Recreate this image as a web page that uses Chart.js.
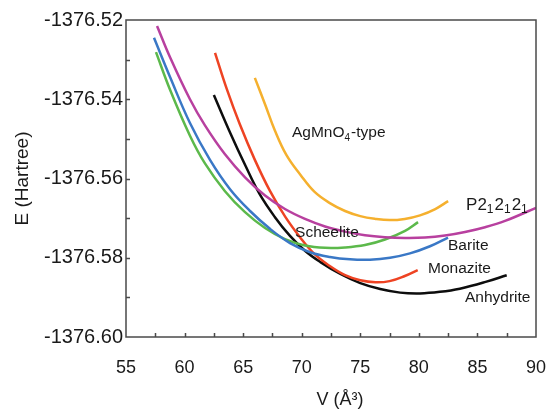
<!DOCTYPE html>
<html>
<head>
<meta charset="utf-8">
<script src="https://cdn.jsdelivr.net/npm/chart.js@4.4.0/dist/chart.umd.min.js"></script>
<style>
  html, body { margin: 0; padding: 0; background: #fff; }
  canvas { display: block; }
</style>
</head>
<body>
<canvas id="eosChart" width="549" height="412"></canvas>
<script>
// V (Å^3) / E (Hartree) pairs, one pair of arrays per structure
const scheeliteV = [57.56, 58.76, 60.46, 61.74, 63.45, 65.16, 66.87, 68.57, 70.28, 71.99, 73.70, 75.40, 77.11, 78.82, 79.93];
const scheeliteE = [-1376.5281, -1376.5376, -1376.5492, -1376.5562, -1376.5632, -1376.5685, -1376.5725, -1376.5753,
                    -1376.5769, -1376.5775, -1376.5774, -1376.5768, -1376.5754, -1376.5732, -1376.5710];

const bariteV = [57.39, 58.76, 60.46, 62.17, 63.88, 65.59, 67.29, 69.00, 70.71, 72.41, 74.12, 75.83, 77.54, 79.24, 80.95, 82.49];
const bariteE = [-1376.5245, -1376.5344, -1376.5460, -1376.5553, -1376.5627, -1376.5682, -1376.5727, -1376.5763,
                 -1376.5786, -1376.5798, -1376.5804, -1376.5805, -1376.5800, -1376.5789, -1376.5771, -1376.5749];

const p212121V = [57.65, 58.76, 60.46, 61.74, 63.45, 65.16, 66.87, 68.57, 70.28, 71.99, 73.70, 75.40, 77.11, 78.82,
                  80.53, 82.23, 83.94, 85.65, 87.36, 90.0];
const p212121E = [-1376.5215, -1376.5294, -1376.5400, -1376.5466, -1376.5539, -1376.5597, -1376.5643, -1376.5677,
                  -1376.5702, -1376.5721, -1376.5734, -1376.5743, -1376.5748, -1376.5750, -1376.5749, -1376.5744,
                  -1376.5735, -1376.5723, -1376.5707, -1376.5674];

const anhydriteV = [62.5, 63.9, 65.2, 66.4, 67.7, 69.0, 70.3, 71.6, 73.3, 75.0, 76.7, 78.4, 80.1, 81.8, 83.5, 85.7, 87.5];
const anhydriteE = [-1376.5389, -1376.5485, -1376.5568, -1376.5639, -1376.5697, -1376.5745, -1376.5783, -1376.5811,
                    -1376.5841, -1376.5864, -1376.5879, -1376.5888, -1376.5890, -1376.5886, -1376.5878, -1376.5861, -1376.5844];

const monaziteV = [62.6, 63.6, 64.7, 66.0, 67.3, 68.6, 69.9, 71.1, 72.4, 73.7, 75.0, 76.3, 77.5, 78.8, 79.9];
const monaziteE = [-1376.5283, -1376.5374, -1376.5462, -1376.5553, -1376.5632, -1376.5697, -1376.5750, -1376.5791,
                   -1376.5821, -1376.5844, -1376.5857, -1376.5862, -1376.5859, -1376.5846, -1376.5831];

const agmno4V = [66.0, 66.9, 67.7, 68.7, 69.9, 71.1, 72.4, 73.7, 75.0, 76.3, 77.5, 78.8, 80.1, 81.4, 82.5];
const agmno4E = [-1376.5346, -1376.5415, -1376.5478, -1376.5541, -1376.5591, -1376.5634, -1376.5662, -1376.5682,
                 -1376.5695, -1376.5702, -1376.5705, -1376.5702, -1376.5693, -1376.5677, -1376.5657];

const xTicks = [55, 60, 65, 70, 75, 80, 85, 90];
const yTicks = [-1376.60, -1376.58, -1376.56, -1376.54, -1376.52];

const FONT = 'Arial, "Liberation Sans", Helvetica, sans-serif';

function pts(vs, es) {
    return vs.map((v, i) => ({ x: v, y: es[i] }));
}

// curve names, placed in data coordinates next to each curve
const curveLabels = [
    { parts: [['AgMnO', 0], ['4', 1], ['-type', 0]], x: 69.17, y: -1376.5485, size: 15.5, sub: 10 },
    { parts: [['P2', 0], ['1', 1], ['2', 0], ['1', 1], ['2', 0], ['1', 1]], x: 84.03, y: -1376.5667, size: 17, sub: 12 },
    { parts: [['Scheelite', 0]], x: 69.43, y: -1376.5738, size: 15.5 },
    { parts: [['Barite', 0]], x: 82.49, y: -1376.5770, size: 15.5 },
    { parts: [['Monazite', 0]], x: 80.78, y: -1376.5828, size: 15.5 },
    { parts: [['Anhydrite', 0]], x: 83.94, y: -1376.5902, size: 15.5 },
];

const framePlugin = {
    id: 'frame',
    afterDatasetsDraw(chart) {
        const { ctx, chartArea: a, scales: { x, y } } = chart;
        ctx.save();

        // box + inward ticks
        ctx.strokeStyle = '#4a4a4a';
        ctx.lineWidth = 1.5;
        ctx.strokeRect(a.left, a.top, a.right - a.left, a.bottom - a.top);
        ctx.beginPath();
        for (let v = 57.5; v < 90; v += 2.5) {
            const px = Math.round(x.getPixelForValue(v)) + 0.5;
            ctx.moveTo(px, a.bottom);
            ctx.lineTo(px, a.bottom - 4);
        }
        for (let k = 1; k < 8; k++) {
            const py = Math.round(y.getPixelForValue(-1376.60 + k * 0.01)) + 0.5;
            ctx.moveTo(a.left, py);
            ctx.lineTo(a.left + 4, py);
        }
        ctx.stroke();

        // curve labels with subscripts
        ctx.fillStyle = '#1a1a1a';
        ctx.textBaseline = 'middle';
        ctx.textAlign = 'left';
        curveLabels.forEach(lab => {
            let px = x.getPixelForValue(lab.x);
            const py = y.getPixelForValue(lab.y);
            lab.parts.forEach(([txt, sub]) => {
                ctx.font = (sub ? lab.sub : lab.size) + 'px ' + FONT;
                ctx.fillText(txt, px, sub ? py + 5 : py);
                px += ctx.measureText(txt).width + (sub ? 1 : 0);
            });
        });

        // axis titles
        ctx.font = '18px ' + FONT;
        ctx.textAlign = 'center';
        ctx.fillText('V (Å³)', 340, 400);
        ctx.translate(23, (a.top + a.bottom) / 2);
        ctx.rotate(-Math.PI / 2);
        ctx.font = '19px ' + FONT;
        ctx.fillText('E (Hartree)', 0, 0);
        ctx.restore();
    }
};

const ctx = document.getElementById('eosChart').getContext('2d');
const eosChart = new Chart(ctx, {
    type: 'line',
    data: {
        datasets: [
            { label: 'P212121', data: pts(p212121V, p212121E), borderColor: '#b8409f' },
            { label: 'Barite', data: pts(bariteV, bariteE), borderColor: '#3a78c6' },
            { label: 'Scheelite', data: pts(scheeliteV, scheeliteE), borderColor: '#5cb94b' },
            { label: 'AgMnO4-type', data: pts(agmno4V, agmno4E), borderColor: '#f5b02e' },
            { label: 'Monazite', data: pts(monaziteV, monaziteE), borderColor: '#ee4323' },
            { label: 'Anhydrite', data: pts(anhydriteV, anhydriteE), borderColor: '#0d0d0d' },
        ]
    },
    options: {
        responsive: false,
        animation: false,
        devicePixelRatio: 1,
        layout: { padding: { top: 20, right: 13, left: 0, bottom: 0 } },
        plugins: {
            legend: { display: false },
            tooltip: { enabled: false }
        },
        elements: {
            point: { radius: 0 },
            line: { borderWidth: 2.5, tension: 0.4, fill: false }
        },
        scales: {
            x: {
                type: 'linear',
                min: 55,
                max: 90,
                afterFit(s) { s.height = 75; s.paddingLeft = 0; s.paddingRight = 0; },
                afterBuildTicks(s) { s.ticks = xTicks.map(v => ({ value: v })); },
                grid: { display: false, drawTicks: false },
                border: { display: false },
                ticks: { padding: 20, color: '#1a1a1a', font: { size: 18, family: FONT }, maxRotation: 0, autoSkip: false }
            },
            y: {
                type: 'linear',
                min: -1376.60,
                max: -1376.52,
                afterFit(s) { s.width = 126; s.paddingTop = 0; s.paddingBottom = 0; },
                afterBuildTicks(s) { s.ticks = yTicks.map(v => ({ value: v })); },
                grid: { display: false, drawTicks: false },
                border: { display: false },
                ticks: {
                    padding: 3,
                    color: '#1a1a1a',
                    font: { size: 20, family: FONT },
                    autoSkip: false,
                    callback: v => v.toFixed(2)
                }
            }
        }
    },
    plugins: [framePlugin]
});
</script>
</body>
</html>
